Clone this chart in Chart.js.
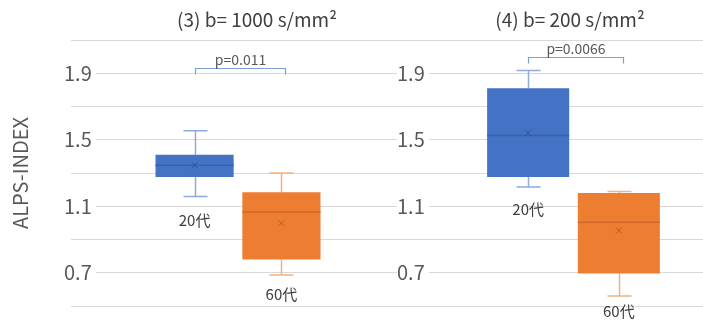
<!DOCTYPE html>
<html><head><meta charset="utf-8">
<script src="https://cdn.jsdelivr.net/npm/chart.js@4"></script>
<style>
html,body{margin:0;padding:0;background:#fff;overflow:hidden;width:703px;height:323px;}
#wrap{position:relative;width:703px;height:323px;overflow:hidden;background:#fff;}
canvas{position:absolute;top:0;}
#c1{left:0;z-index:1;} #c2{left:333px;z-index:2;}
</style></head><body>
<div id="wrap"><canvas id="c1" width="405" height="323"></canvas><canvas id="c2" width="410" height="323"></canvas></div>
<script>
// ---- data ----
const groups = ['20代', '60代'];
const panelTitles = ['(3) b= 1000 s/mm²', '(4) b= 200 s/mm²'];
const pLabels = ['p=0.011', 'p=0.0066'];
const pBracketY = [1.93, 2.0];
const yTickLabels = ['0.7', '1.1', '1.5', '1.9'];
const yMin = 0.5, yMax = 2.1, yStep = 0.2;
const yTitle = 'ALPS-INDEX';

// panel (3) b=1000
const p3Min    = [1.158, 0.686];
const p3Q1     = [1.276, 0.780];
const p3Median = [1.346, 1.066];
const p3Q3     = [1.410, 1.184];
const p3Max    = [1.554, 1.300];
const p3Mean   = [1.346, 0.998];

// panel (4) b=200
const p4Min    = [1.216, 0.560];
const p4Q1     = [1.276, 0.696];
const p4Median = [1.526, 1.004];
const p4Q3     = [1.810, 1.180];
const p4Max    = [1.916, 1.188];
const p4Mean   = [1.542, 0.954];

// ---- styles ----
const FONT = "'Noto Sans CJK JP', 'Noto Sans', sans-serif";
Chart.defaults.font.family = FONT;
const boxColors = ['#4472C4', '#ED7D31'];
const whiskerColors = ['#8FAADC', '#F4B183'];
const medianColors = ['#3A62A8', '#D0682A'];
const meanColors = ['rgba(40,70,130,0.7)', 'rgba(160,80,30,0.7)'];
const textColor = '#595959';

const boxPlugin = {
  id: 'boxplot',
  beforeDatasetsDraw(chart, args, o) {
    const ctx = chart.ctx, y = chart.scales.y;
    ctx.save();
    ctx.lineWidth = 1.5;
    for (let i = 0; i < 2; i++) {
      const bar = chart.getDatasetMeta(i).data[0];
      const x = Math.round(bar.x) + 0.5;
      ctx.strokeStyle = whiskerColors[i];
      const yMaxP = y.getPixelForValue(o.max[i]), yMinP = y.getPixelForValue(o.min[i]);
      const yq1 = y.getPixelForValue(o.q1[i]), yq3 = y.getPixelForValue(o.q3[i]);
      ctx.beginPath();
      ctx.moveTo(x, yq3); ctx.lineTo(x, yMaxP);
      ctx.moveTo(x - 12, yMaxP); ctx.lineTo(x + 12, yMaxP);
      ctx.moveTo(x, yq1); ctx.lineTo(x, yMinP);
      ctx.moveTo(x - 12, yMinP); ctx.lineTo(x + 12, yMinP);
      ctx.stroke();
    }
    ctx.restore();
  },
  afterDatasetsDraw(chart, args, o) {
    const ctx = chart.ctx, y = chart.scales.y, ca = chart.chartArea;
    ctx.save();
    const bars = [0, 1].map(i => chart.getDatasetMeta(i).data[0]);
    for (let i = 0; i < 2; i++) {
      const bar = bars[i];
      const half = bar.width / 2;
      // median
      const ym = y.getPixelForValue(o.median[i]);
      ctx.strokeStyle = medianColors[i];
      ctx.lineWidth = 1.5;
      ctx.beginPath(); ctx.moveTo(bar.x - half, ym); ctx.lineTo(bar.x + half, ym); ctx.stroke();
      // mean x
      const yMean = y.getPixelForValue(o.mean[i]);
      ctx.strokeStyle = meanColors[i];
      ctx.lineWidth = 1;
      ctx.beginPath();
      ctx.moveTo(bar.x - 3, yMean - 3); ctx.lineTo(bar.x + 3, yMean + 3);
      ctx.moveTo(bar.x + 3, yMean - 3); ctx.lineTo(bar.x - 3, yMean + 3);
      ctx.stroke();
      // group label
      ctx.fillStyle = '#404040';
      ctx.font = '15px ' + FONT;
      ctx.textAlign = 'center'; ctx.textBaseline = 'middle';
      ctx.fillText(groups[i], bar.x, y.getPixelForValue(o.min[i]) + o.labelOffsets[i]);
    }
    // p-value bracket
    const by = Math.round(y.getPixelForValue(o.pY)) + 0.5;
    const x1 = Math.round(bars[0].x) + 0.5, x2 = Math.round(bars[1].x) + 4.5;
    ctx.strokeStyle = '#7F9ED6';
    ctx.lineWidth = 1.2;
    ctx.beginPath();
    ctx.moveTo(x1, by + 6); ctx.lineTo(x1, by); ctx.lineTo(x2, by); ctx.lineTo(x2, by + 6);
    ctx.stroke();
    ctx.fillStyle = textColor;
    ctx.font = '14px ' + FONT;
    ctx.textAlign = 'center'; ctx.textBaseline = 'middle';
    ctx.fillText(o.pLabel, (x1 + x2) / 2, by - 8.5);
    // panel title
    ctx.fillStyle = '#404040';
    ctx.font = '19px ' + FONT;
    ctx.fillText(o.title, ca.left + o.titleDx, 20);
    ctx.restore();
  }
};

function makeChart(id, st, idx, showTitle, catPct, barPct) {
  return new Chart(document.getElementById(id), {
    type: 'bar',
    data: {
      labels: [''],
      datasets: [0, 1].map(i => ({
        label: groups[i],
        data: [[st.q1[i], st.q3[i]]],
        backgroundColor: boxColors[i],
        borderWidth: 0,
        categoryPercentage: catPct,
        barPercentage: barPct
      }))
    },
    options: {
      responsive: false,
      devicePixelRatio: 1,
      animation: false,
      events: [],
      layout: { padding: { top: 40, bottom: 17, left: 0, right: 0 } },
      scales: {
        x: { type: 'category', display: false, offset: true, grid: { display: false } },
        y: {
          min: yMin, max: yMax,
          border: { display: false },
          grid: { color: '#D9D9D9', lineWidth: 1, drawTicks: false },
          afterFit: (s) => { s.width = 71; },
          title: { display: showTitle, text: yTitle, color: textColor,
                   font: { size: 20, family: FONT }, padding: { top: 8, bottom: 0 } },
          ticks: {
            stepSize: yStep,
            mirror: true,
            padding: -7,
            color: textColor,
            font: { size: 20, family: FONT },
            callback: (v) => { const s = Number(v).toFixed(1); return yTickLabels.includes(s) ? s : ''; },
            showLabelBackdrop: (c) => !!(c.tick && yTickLabels.includes(Number(c.tick.value).toFixed(1))),
            backdropColor: '#ffffff',
            backdropPadding: { left: 0, right: 4, top: 0, bottom: 0 }
          }
        }
      },
      plugins: {
        legend: { display: false },
        tooltip: { enabled: false },
        boxplot: {
          min: st.min, q1: st.q1, median: st.median, q3: st.q3, max: st.max, mean: st.mean,
          labelOffsets: st.labelOffsets,
          pLabel: pLabels[idx], pY: pBracketY[idx],
          title: panelTitles[idx], titleDx: st.titleDx
        }
      }
    },
    plugins: [boxPlugin]
  });
}

makeChart('c1', { min: p3Min, q1: p3Q1, median: p3Median, q3: p3Q3, max: p3Max, mean: p3Mean,
                  labelOffsets: [24, 19], titleDx: 186 }, 0, true, 0.52, 0.9);
makeChart('c2', { min: p4Min, q1: p4Q1, median: p4Median, q3: p4Q3, max: p4Max, mean: p4Mean,
                  labelOffsets: [22, 15], titleDx: 166 }, 1, false, 0.535, 0.905);
</script>
</body></html>
